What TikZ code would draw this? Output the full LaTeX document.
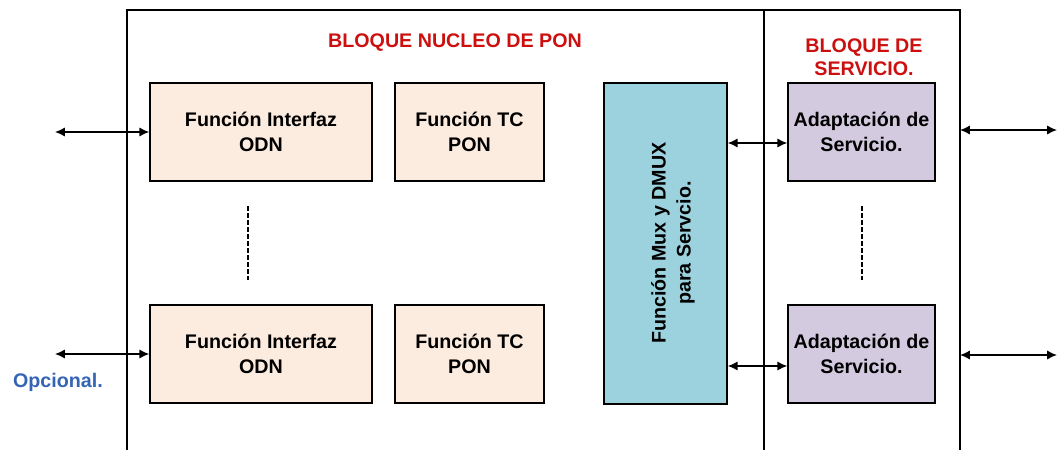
\documentclass[tikz,border=0pt]{standalone}
\usepackage{fontspec}
\setmainfont{Liberation Sans}
\usetikzlibrary{arrows.meta}
\definecolor{rojotit}{RGB}{204,16,16}
\definecolor{azulop}{RGB}{52,100,180}
\definecolor{durazno}{RGB}{252,236,224}
\definecolor{celeste}{RGB}{155,210,222}
\definecolor{lila}{RGB}{212,202,224}
\tikzset{
    bloque/.style={draw,line width=1pt,align=center,font=\bfseries\fontsize{14}{17.8}\selectfont},
    interfaz/.style={bloque,fill=durazno,minimum width=5.55cm,minimum height=2.45cm},
    tcpon/.style={bloque,fill=durazno,minimum width=3.725cm,minimum height=2.45cm},
    adapta/.style={bloque,fill=lila,minimum width=3.675cm,minimum height=2.45cm},
    titulo/.style={align=center,text=rojotit,font=\bfseries\fontsize{14}{16.5}\selectfont},
    flecha/.style={{Latex[length=7pt,width=6.5pt]}-{Latex[length=7pt,width=6.5pt]},line width=1pt},
    puntos/.style={dash pattern=on 3.5pt off 1.5pt,line width=0.9pt}
}
\begin{document}
\begin{tikzpicture}[x=0.025cm,y=-0.025cm]
    \useasboundingbox (0,0) rectangle (1059,450);
    % marco de los bloques
    \draw[line width=0.8pt] (127,450) -- (127,10) -- (960,10) -- (960,450);
    \draw[line width=0.8pt] (764,10) -- (764,450);

    \node[titulo] (tnucleo) at (455,43) {BLOQUE NUCLEO DE PON};
    \node[titulo] (tservicio) at (864,57) {BLOQUE DE\\SERVICIO.};

    % bloque nucleo
    \node[interfaz] (odnA) at (261,132) {Función Interfaz\\ODN};
    \node[tcpon] (tcA) at (469.5,132) {Función TC\\PON};
    \node[interfaz] (odnB) at (261,354) {Función Interfaz\\ODN};
    \node[tcpon] (tcB) at (469.5,354) {Función TC\\PON};
    \node[bloque,fill=celeste,minimum width=3.075cm,minimum height=8.025cm] (mux) at (665.5,243.5) {};
    \node[rotate=90,align=center,font=\bfseries\fontsize{14}{17.8}\selectfont] (muxtxt) at (673,243) {Función Mux y DMUX\\para Servcio.};

    % bloque de servicio
    \node[adapta] (adA) at (861.5,132) {Adaptación de\\Servicio.};
    \node[adapta] (adB) at (861.5,354) {Adaptación de\\Servicio.};

    \draw[puntos] (248,206) -- (248,280);
    \draw[puntos] (862,206) -- (862,280);

    % flechas
    \coordinate (entA) at (55,132);
    \coordinate (entB) at (55,354);
    \draw[flecha] (entA) -- (odnA.west);
    \draw[flecha] (entB) -- (odnB.west);

    \coordinate (mA) at (788,143);
    \coordinate (mB) at (788,366);
    \draw[flecha] (mux.east |- mA) -- (adA.west |- mA);
    \draw[flecha] (mux.east |- mB) -- (adB.west |- mB);

    \coordinate (salA) at (960,130);
    \coordinate (finA) at (1057,130);
    \coordinate (salB) at (960,355);
    \coordinate (finB) at (1057,355);
    \draw[flecha] (salA) -- (finA);
    \draw[flecha] (salB) -- (finB);

    \node[text=azulop,font=\bfseries\fontsize{14}{17}\selectfont] (opc) at (58,382) {Opcional.};
\end{tikzpicture}
\end{document}
